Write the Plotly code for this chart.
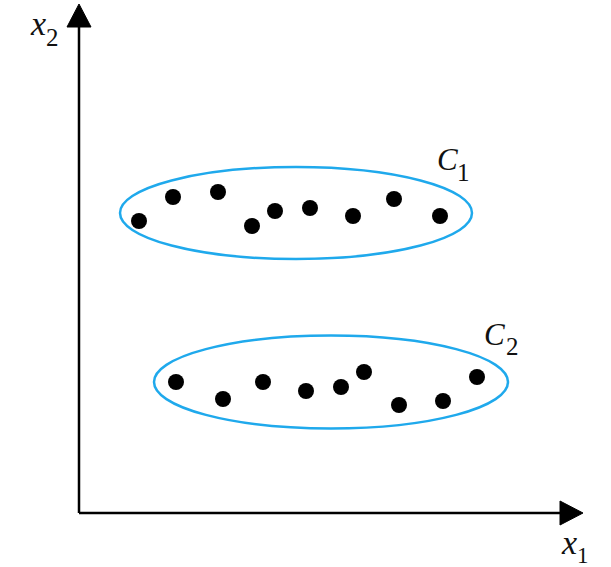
import plotly.graph_objects as go

# Cluster C1 points (x1, x2)
c1_x = [60, 94, 139, 173, 196, 231, 274, 315, 361]
c1_y = [292, 316, 321, 287, 302, 305, 297, 314, 297]
# Cluster C2 points
c2_x = [97, 144, 184, 227, 262, 285, 320, 364, 398]
c2_y = [131, 114, 131, 122, 126, 141, 108, 112, 136]

# Ellipses: center x, center y, semi-axis x, semi-axis y
ell_c1 = [217, 300, 176, 46]
ell_c2 = [252, 131, 177, 46.5]

cluster_labels = ["C", "C"]
cluster_subs = ["1", "2"]
axis_labels = ["x", "x"]
axis_subs = ["1", "2"]

X_END, Y_END = 504, 509
ARROW_LEN, ARROW_HALF = 23, 12

fig = go.Figure()

for xs, ys, nm in [(c1_x, c1_y, "C1"), (c2_x, c2_y, "C2")]:
    fig.add_trace(go.Scatter(x=xs, y=ys, mode="markers", name=nm,
                             marker=dict(size=16, color="black"),
                             showlegend=False, hoverinfo="skip"))

shapes = []
for cx, cy, a, b in [ell_c1, ell_c2]:
    shapes.append(dict(type="circle", xref="x", yref="y",
                       x0=cx - a, x1=cx + a, y0=cy - b, y1=cy + b,
                       line=dict(color="#1fa9ec", width=2.5)))
# axes lines
shapes.append(dict(type="line", x0=0, y0=0, x1=X_END - ARROW_LEN + 2, y1=0,
                   line=dict(color="black", width=2.5)))
shapes.append(dict(type="line", x0=0, y0=0, x1=0, y1=Y_END - ARROW_LEN + 2,
                   line=dict(color="black", width=2.5)))
# arrowheads
shapes.append(dict(type="path",
                   path=f"M {X_END - ARROW_LEN} {-ARROW_HALF} L {X_END} 0 L {X_END - ARROW_LEN} {ARROW_HALF} Z",
                   fillcolor="black", line=dict(color="black", width=1)))
shapes.append(dict(type="path",
                   path=f"M {-ARROW_HALF} {Y_END - ARROW_LEN} L 0 {Y_END} L {ARROW_HALF} {Y_END - ARROW_LEN} Z",
                   fillcolor="black", line=dict(color="black", width=1)))

fam = "Liberation Serif"
def main(x, y, t, size):
    return dict(x=x, y=y, text=f"<i>{t}</i>", showarrow=False, xref="x", yref="y",
                font=dict(family=fam, size=size, color="#111"))
def sub(x, y, t, size):
    return dict(x=x, y=y, text=t, showarrow=False, xref="x", yref="y",
                font=dict(family=fam, size=size, color="#111"))

ann = [
    main(-41, 490, axis_labels[1], 34), sub(-27, 476, axis_subs[1], 25),
    main(490, -29, axis_labels[0], 34), sub(504, -42, axis_subs[0], 23),
    main(368, 354, cluster_labels[0], 31), sub(384, 341, cluster_subs[0], 25),
    main(415, 179, cluster_labels[1], 31), sub(433, 167, cluster_subs[1], 25),
]

fig.update_layout(
    width=611, height=567,
    margin=dict(l=0, r=0, t=0, b=0),
    plot_bgcolor="white", paper_bgcolor="white",
    xaxis=dict(range=[-79, 532], visible=False, fixedrange=True),
    yaxis=dict(range=[-54, 513], visible=False, fixedrange=True),
    shapes=shapes, annotations=ann,
)
fig.write_html("out.html", config={"displayModeBar": False},
               post_script="document.body.style.margin='0';")
